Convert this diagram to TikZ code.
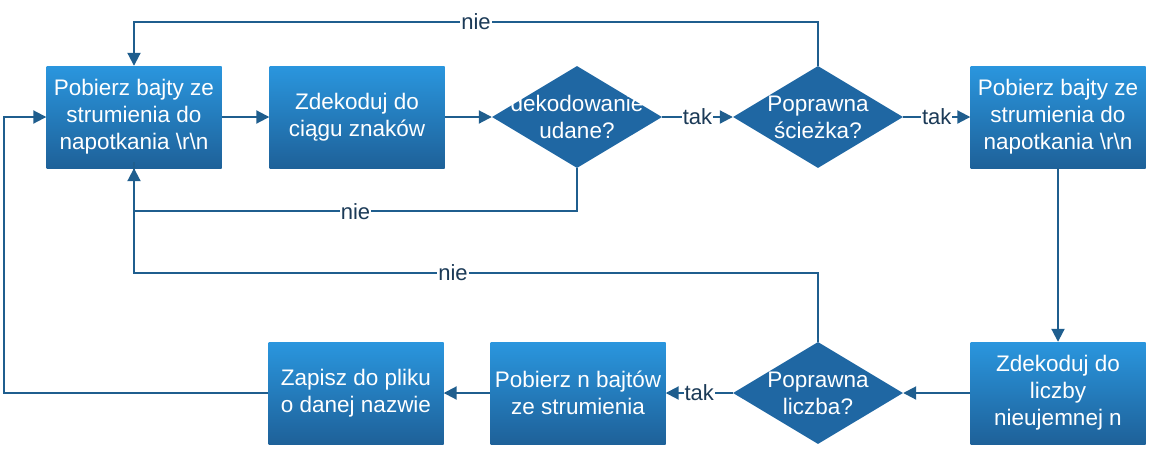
\documentclass[tikz,border=0pt]{standalone}
\usepackage{fontspec}
\setmainfont{Liberation Sans}
\usetikzlibrary{shapes.geometric,arrows.meta}
\definecolor{boxtop}{HTML}{2A96DE}
\definecolor{boxbot}{HTML}{1E6199}
\definecolor{dia}{HTML}{1F67A3}
\definecolor{ln}{HTML}{1F5E8E}
\definecolor{lbl}{HTML}{1B3A57}
\tikzset{
  box/.style={rectangle, minimum width=175pt, minimum height=102pt, inner sep=0pt,
    top color=boxtop, bottom color=boxbot, draw=none, text=white, align=center,
    font=\fontsize{22.5}{27}\selectfont},
  dec/.style={diamond, minimum width=170pt, minimum height=102pt, inner sep=0pt,
    fill=dia, draw=none},
  dtext/.style={text=white, align=center, font=\fontsize{22.5}{27}\selectfont},
  conn/.style={draw=ln, line width=2pt, -{Triangle[width=13pt,length=13pt]}},
  plain/.style={draw=ln, line width=2pt},
  lab/.style={fill=white, text=lbl, inner sep=1pt, font=\fontsize{22}{24}\selectfont},
}
\begin{document}
\begin{tikzpicture}[x=1pt,y=-1pt]
\useasboundingbox (0,0) rectangle (1156,448);
\node[box] (b1) at (134,117) {Pobierz bajty ze\\strumienia do\\napotkania \textbackslash r\textbackslash n};
\node[box] (b2) at (357,117) {Zdekoduj do\\ciągu znaków};
\node[dec, label={[dtext]center:dekodowanie\\udane?}] (d1) at (577,117) {};
\node[dec, label={[dtext]center:Poprawna\\ścieżka?}] (d2) at (818,117) {};
\node[box] (b3) at (1058,117) {Pobierz bajty ze\\strumienia do\\napotkania \textbackslash r\textbackslash n};
\node[box] (b4) at (1058,393) {Zdekoduj do\\liczby\\nieujemnej n};
\node[dec, label={[dtext]center:Poprawna\\liczba?}] (d3) at (818,393) {};
\node[box] (b5) at (578,393) {Pobierz n bajtów\\ze strumienia};
\node[box] (b6) at (356,393) {Zapisz do pliku\\o danej nazwie};
\coordinate (c1) at (4,393);
\coordinate (c2) at (4,117);
\coordinate (n3) at (453,273);

\draw[conn] (b1) -- (b2);
\draw[conn] (b2) -- (d1);
\draw[conn] (d1) -- node[lab]{tak} (d2);
\draw[conn] (d2) -- node[lab]{tak} (b3);
\draw[conn] (b3) -- (b4);
\draw[conn] (b4) -- (d3);
\draw[conn] (d3) -- node[lab]{tak} (b5);
\draw[conn] (b5) -- (b6);
\draw[conn] (d2.north) -- ++(0,-44) -| node[lab, pos=0.25]{nie} (b1.north);
\draw[conn] (d1.south) -- ++(0,43) -| node[lab, pos=0.25]{nie} (b1.south);
\draw[plain] (d3.north) |- (n3) -- (134,273) -- ([yshift=6pt]b1.south);
\node[lab] (nl) at (n3) {nie};
\draw[conn] (b6.west) -- (c1) -- (c2) -- (b1.west);
\end{tikzpicture}
\end{document}
